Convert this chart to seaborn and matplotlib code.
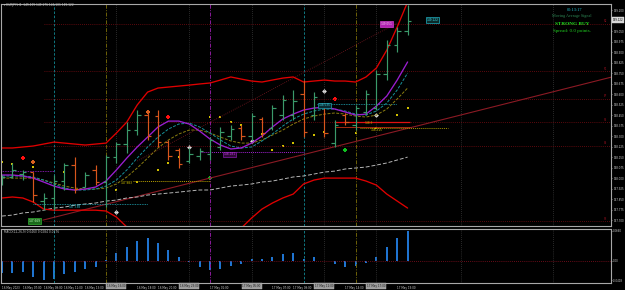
import matplotlib
matplotlib.use("Agg")
import matplotlib.pyplot as plt
import seaborn as sns

sns.set_style("dark")
plt.rcParams['font.family'] = ['DejaVu Sans']

# ---------------- data ----------------
bar_index = list(range(40))
open_ = [147.96, 148.01, 148.03, 148.04, 147.84, 147.86, 147.98, 148.09, 147.94, 148.06,
         147.97, 148.15, 148.24, 148.34, 148.45, 148.44, 148.26, 148.20, 148.12, 148.16,
         148.17, 148.22, 148.30, 148.36, 148.30, 148.42, 148.36, 148.45, 148.45, 148.60,
         148.45, 148.52, 148.25, 148.45, 148.38, 148.47, 148.50, 148.74, 148.95, 149.05]
high = [148.022, 148.108, 148.058, 148.043, 147.893, 148.022, 148.108, 148.150, 148.043, 148.093,
        148.165, 148.257, 148.400, 148.486, 148.472, 148.486, 148.272, 148.215, 148.215, 148.215,
        148.293, 148.365, 148.379, 148.379, 148.465, 148.436, 148.522, 148.593, 148.629, 148.700,
        148.614, 148.536, 148.415, 148.465, 148.522, 148.629, 148.772, 148.986, 149.079, 149.236]
low = [147.950, 148.000, 147.986, 147.829, 147.772, 147.772, 147.915, 147.893, 147.936, 147.950,
       147.793, 148.108, 148.179, 148.307, 148.272, 148.222, 148.129, 148.072, 148.108, 148.129,
       148.129, 148.200, 148.272, 148.272, 148.272, 148.293, 148.343, 148.415, 148.415, 148.293,
       148.415, 148.293, 148.222, 148.379, 148.343, 148.450, 148.486, 148.700, 148.900, 149.022]
close = [148.01, 148.06, 148.04, 147.88, 147.86, 147.98, 148.09, 147.92, 148.02, 147.97,
         148.15, 148.24, 148.34, 148.45, 148.30, 148.26, 148.16, 148.10, 148.17, 148.19,
         148.27, 148.33, 148.35, 148.30, 148.44, 148.32, 148.50, 148.56, 148.55, 148.33,
         148.58, 148.32, 148.38, 148.40, 148.50, 148.60, 148.74, 148.95, 149.05, 149.122]

ma_fast = [148.022, 148.022, 148.015, 148.000, 147.972, 147.943, 147.922, 147.915, 147.922, 147.936,
           147.979, 148.058, 148.143, 148.222, 148.293, 148.365, 148.407, 148.407, 148.386, 148.336,
           148.279, 148.236, 148.208, 148.215, 148.250, 148.300, 148.365, 148.422, 148.457, 148.486,
           148.500, 148.507, 148.493, 148.472, 148.450, 148.457, 148.514, 148.586, 148.700, 148.829]
ma_mid = [148.015, 148.015, 148.015, 148.008, 147.986, 147.958, 147.929, 147.915, 147.915, 147.922,
          147.943, 147.986, 148.058, 148.143, 148.222, 148.293, 148.350, 148.386, 148.393, 148.365,
          148.322, 148.272, 148.229, 148.215, 148.222, 148.265, 148.315, 148.372, 148.422, 148.457,
          148.479, 148.493, 148.493, 148.479, 148.457, 148.450, 148.479, 148.536, 148.629, 148.750]
ma_slow = [148.000, 148.000, 148.000, 148.000, 147.986, 147.965, 147.943, 147.929, 147.922, 147.922,
           147.929, 147.958, 148.008, 148.072, 148.143, 148.215, 148.272, 148.315, 148.343, 148.343,
           148.322, 148.293, 148.265, 148.250, 148.250, 148.272, 148.307, 148.343, 148.386, 148.422,
           148.443, 148.457, 148.465, 148.457, 148.443, 148.436, 148.450, 148.493, 148.565, 148.643]
band_upper = [148.215, 148.215, 148.222, 148.229, 148.243, 148.257, 148.250, 148.243, 148.236, 148.243,
              148.250, 148.322, 148.400, 148.522, 148.614, 148.643, 148.650, 148.657, 148.664, 148.672,
              148.679, 148.700, 148.722, 148.707, 148.693, 148.686, 148.700, 148.714, 148.722, 148.686,
              148.693, 148.700, 148.693, 148.693, 148.686, 148.722, 148.786, 148.914, 149.079, 149.257]
band_lower = [147.858, 147.865, 147.858, 147.829, 147.779, 147.771, 147.771, 147.771, 147.771, 147.771,
              147.765, 147.722, 147.651, 147.579, 147.522, 147.486, 147.465, 147.451, 147.444, 147.444,
              147.451, 147.472, 147.557, 147.643, 147.715, 147.779, 147.822, 147.858, 147.886, 147.958,
              147.986, 148.000, 148.000, 148.000, 148.000, 147.979, 147.950, 147.886, 147.836, 147.786]
ma_long = [147.729, 147.736, 147.751, 147.758, 147.771, 147.786, 147.793, 147.807, 147.815, 147.822,
           147.836, 147.843, 147.858, 147.865, 147.879, 147.886, 147.893, 147.900, 147.908, 147.915,
           147.915, 147.929, 147.943, 147.950, 147.958, 147.972, 147.979, 147.993, 148.008, 148.015,
           148.029, 148.043, 148.050, 148.065, 148.072, 148.079, 148.093, 148.108, 148.129, 148.150]
macd_hist = [-0.0264, -0.0264, -0.0242, -0.0352, -0.0425, -0.0389, -0.0286, -0.0249, -0.0176, -0.0139,
             0.0015, 0.0169, 0.0308, 0.0447, 0.0513, 0.0403, 0.0249, 0.0095, -0.0029, -0.0139,
             -0.0191, -0.0176, -0.0117, -0.0066, 0.0037, 0.0037, 0.0088, 0.0147, 0.0183, 0.0044,
             0.0081, 0.0010, -0.0066, -0.0139, -0.0110, -0.0051, 0.0095, 0.0315, 0.0506, 0.0660]

time_label_bars = [0, 2, 4, 6, 8, 13, 15, 20, 26, 28, 33, 38]
time_labels = ["16 May 2023", "16 May 07:00", "16 May 09:00", "16 May 11:00", "16 May 13:00",
               "16 May 18:00", "16 May 20:00",
               "17 May 01:00", "17 May 07:00", "17 May 09:00",
               "17 May 14:00", "17 May 19:00"]
vline_box_bars = [11, 18, 24, 31, 36]
vline_box_labels = ["16 May 16:00", "16 May 23:00", "17 May 05:00", "17 May 12:00", "17 May 17:00"]

price_ticks = [149.200, 149.050, 148.975, 148.900, 148.825, 148.750, 148.675, 148.600,
               148.525, 148.450, 148.375, 148.300, 148.225, 148.150, 148.075, 148.000, 147.925,
               147.850, 147.775, 147.700]
current_price = 149.122
pivot_levels = [149.100, 148.764, 148.565, 148.400, 148.229, 147.693]
pivot_names = ["R2", "R1", "PP", "S1", "S2", "S3"]

trend_bars = [3.94, 58.65]
trend_prices = [147.700, 148.722]
dotted_trend_bars = [13.0, 38.0]
dotted_trend_prices = [148.122, 149.107]

sell_bars = [2, 16, 32]
sell_prices = [148.143, 148.436, 148.565]
warn_bars = [3, 14]
warn_prices = [148.115, 148.472]
buy_bars = [20, 33]
buy_prices = [148.000, 148.200]
white_bars = [11, 18, 24, 31, 36]
white_prices = [147.758, 148.222, 148.265, 148.622, 148.450]
dot_bars = [0, 1, 3, 6, 11, 13, 15, 16, 17, 20, 21, 22, 23, 25, 26, 27, 28, 30, 31, 34, 36, 38, 39]
dot_prices = [148.115, 148.100, 148.079, 148.043, 147.915, 147.972, 148.058, 148.108, 148.150, 148.436,
              148.436, 148.400, 148.379, 148.315, 148.200, 148.229, 148.250, 148.307, 148.329, 148.322,
              148.357, 148.450, 148.500]

macd_ticks = [0.0660, 0.0, -0.0418]
macd_tick_labels = ["0.0660", "0.00", "-0.0418"]

# ---------------- layout ----------------
W, H = 625, 290
BAR0, STEP = 2.0, 10.4
L, R = 1, 611

def px_x(px):
    return px / W

def px_y(py):
    return 1 - py / H

def bx(px):
    return (px - BAR0) / STEP

fig = plt.figure(figsize=(6.25, 2.9), dpi=100)
fig.patch.set_facecolor('black')
ax = fig.add_axes([px_x(L), px_y(226), (R - L) / W, 222 / H])
axm = fig.add_axes([px_x(L), px_y(283), (R - L) / W, 54 / H])

GRIDC = '#505050'
for a in (ax, axm):
    a.set_facecolor('black')
    for s in a.spines.values():
        s.set_color('#a8a8a8')
        s.set_linewidth(0.8)
    a.set_xlim(bx(L), bx(R))
    a.yaxis.tick_right()
    a.tick_params(axis='y', colors='#cfcfcf', labelsize=1.9, length=1.0, width=0.4, pad=0.6)
    a.grid(False)
    for b in [11, 18, 24, 31, 36, 44.1, 53]:
        a.axvline(b, color=GRIDC, lw=0.5, ls=(0, (1, 2)))
    for b in [5, 29]:
        a.axvline(b, color='#138a95', lw=0.6, ls=(0, (3, 2)))
    for b in [10, 34]:
        a.axvline(b, color='#6e6208', lw=0.7, ls=(0, (4, 1.5, 1, 1.5)))
    a.axvline(20, color='#8a1a9a', lw=0.7, ls=(0, (4, 1.5, 1, 1.5)))

ax.set_ylim(147.658, 149.243)
ax.set_yticks(price_ticks)
ax.set_yticklabels([f"{p:.3f}" for p in price_ticks])
ax.set_xticks([])

# pivot lines
for lvl, nm in zip(pivot_levels, pivot_names):
    ax.hlines(lvl, 4, bx(R), colors='#7a0c12', lw=0.6, linestyles=(0, (1, 1.5)))
    ax.text(bx(605), lvl + 0.004, nm, color='#a01020', fontsize=1.9, ha='center', va='bottom')

# trend lines
sns.lineplot(x=trend_bars, y=trend_prices, ax=ax, color='#8b1a24', lw=0.8)
sns.lineplot(x=dotted_trend_bars, y=dotted_trend_prices, ax=ax, color='#7a1820', lw=0.6,
             linestyle=(0, (1, 1.5)))

# long MA and bands
sns.lineplot(x=bar_index, y=ma_long, ax=ax, color='#b5b5b5', lw=0.7, linestyle=(0, (4, 2)))
sns.lineplot(x=bar_index, y=band_upper, ax=ax, color='#e00000', lw=0.95)
sns.lineplot(x=bar_index, y=band_lower, ax=ax, color='#e00000', lw=0.95)

# horizontal helper segments
ax.hlines(148.050, bx(L), 5, colors='#a020d0', lw=0.6, linestyles=(0, (1, 1)))
ax.hlines(148.186, 19, 29, colors='#a020d0', lw=0.7, linestyles=(0, (1, 1)))
ax.hlines(147.979, 12.6, 20, colors='#b8a000', lw=0.7, linestyles=(0, (1, 1)))
ax.hlines(147.815, 3, 14, colors='#20a8b8', lw=0.6, linestyles=(0, (1, 1)))
ax.hlines(148.529, 30.3, 38, colors='#20a8b8', lw=0.6, linestyles=(0, (1, 1)))
ax.hlines(148.357, 34.4, 42.9, colors='#a09000', lw=0.7, linestyles=(0, (1, 1)))
ax.hlines(148.400, 32, 39.2, colors='#e01010', lw=0.9)
ax.hlines(148.365, 32, 39.2, colors='#c03010', lw=0.6)

# moving averages
sns.lineplot(x=bar_index, y=ma_slow, ax=ax, color='#8a7c10', lw=0.7, linestyle=(0, (3, 1.5)))
sns.lineplot(x=bar_index, y=ma_mid, ax=ax, color='#17919a', lw=0.7, linestyle=(0, (3, 1.5)))
sns.lineplot(x=bar_index, y=ma_fast, ax=ax, color='#9a1ed0', lw=0.95)

# OHLC bars
cols = ['#3a9a6a' if c >= o else '#d8561c' for o, c in zip(open_, close)]
ax.vlines(bar_index, low, high, colors=cols, lw=0.85)
ax.hlines(open_, [i - 0.32 for i in bar_index], bar_index, colors=cols, lw=0.85)
ax.hlines(close, bar_index, [i + 0.32 for i in bar_index], colors=cols, lw=0.85)

# markers
sns.scatterplot(x=dot_bars, y=dot_prices, ax=ax, color='#d0c000', s=2, marker='s', linewidth=0)
sns.scatterplot(x=sell_bars, y=sell_prices, ax=ax, color='#ff1010', s=12, marker='P', linewidth=0)
sns.scatterplot(x=warn_bars, y=warn_prices, ax=ax, color='#d86020', s=10, marker='P', linewidth=0)
sns.scatterplot(x=buy_bars, y=buy_prices, ax=ax, color='#10c020', s=12, marker='P', linewidth=0)
sns.scatterplot(x=white_bars, y=white_prices, ax=ax, color='#d8d8d8', s=6, marker='D', linewidth=0)
ax.set_xlabel(''); ax.set_ylabel('')

# small price labels on chart
def box_label(a, xb, yp, txt, fc, tc, ec):
    a.text(xb, yp, txt, fontsize=2.1, color=tc, ha='center', va='center',
           bbox=dict(boxstyle='square,pad=0.25', fc=fc, ec=ec, lw=0.5))

box_label(ax, 37.0, 149.100, "149.051", '#b020b0', '#f0d0f0', '#d040d0')
box_label(ax, 41.4, 149.129, "149.122", '#0a2a2a', '#40e0f0', '#20b0c0')
box_label(ax, 3.1, 147.693, "147.669", '#1c6a1c', '#c0ffc0', '#30b030')
box_label(ax, 31.0, 148.520, "148.535", '#0a2a30', '#40d0e0', '#20a0b0')
ax.text(21.9, 148.170, "148.181", fontsize=2.1, color='#c040e0', ha='center', va='center',
        bbox=dict(boxstyle='square,pad=0.2', fc='#300838', ec='#a020d0', lw=0.4))
ax.text(12.0, 147.965, "147.983", fontsize=2.1, color='#e0d000', ha='center', va='center')
ax.text(7.0, 147.793, "147.738", fontsize=2.1, color='#30d0e0', ha='center', va='center')
ax.text(35.3, 148.393, "148.3", fontsize=2.1, color='#c0b000', ha='center', va='center')
ax.text(36.0, 148.343, "148.315", fontsize=2.1, color='#e0d000', ha='center', va='center')

# MACD panel
axm.bar(bar_index, macd_hist, width=0.18, color='#1f74d0', linewidth=0)
axm.set_xlim(bx(L), bx(R))
axm.set_ylim(-0.0484, 0.0704)
axm.axhline(0, color='#8b1020', lw=0.6, ls=(0, (1, 1.5)))
axm.set_yticks(macd_ticks)
axm.set_yticklabels(macd_tick_labels)
axm.set_xticks(time_label_bars)
axm.set_xticklabels(time_labels)
axm.tick_params(axis='x', colors='#cfcfcf', labelsize=2.0, length=1.2, width=0.4, pad=1)
for t in axm.get_xticklabels():
    t.set_ha('left')
axm.set_xlabel(''); axm.set_ylabel('')

# gray boxes on time axis (vertical line labels)
for b, lab in zip(vline_box_bars, vline_box_labels):
    fig.text(px_x(BAR0 + STEP * b), px_y(286), lab, fontsize=2.0, color='#202020',
             ha='center', va='center',
             bbox=dict(boxstyle='square,pad=0.3', fc='#9c9c9c', ec='#bcbcbc', lw=0.3))

# headers
fig.text(px_x(4), px_y(5), "\u25be EURJPY,H1  149.109 149.176 149.101 149.122",
         fontsize=2.1, color='#c8c8c8', ha='left', va='center')
fig.text(px_x(4), px_y(232), "MACD(12,26,9) 0.0460 0.0284 0.0176",
         fontsize=2.1, color='#c8c8c8', ha='left', va='center')

# current price tag on axis
fig.text(px_x(618), px_y(20), f"{current_price:.3f}", fontsize=1.9, color='#000000',
         ha='center', va='center',
         bbox=dict(boxstyle='square,pad=0.25', fc='#d8d8d8', ec='#d8d8d8', lw=0.3))

# signal panel texts
serif = ['Liberation Serif', 'DejaVu Serif']
fig.text(px_x(575), px_y(10), "00:13:17", fontsize=3.2, color='#20c0d0', ha='center', va='center',
         family=serif)
fig.text(px_x(572), px_y(16.5), "Moving Average Signal", fontsize=3.0, color='#2e8b57',
         ha='center', va='center', family=serif)
fig.text(px_x(572), px_y(24), "STRONG BUY", fontsize=3.8, color='#20e020', ha='center',
         va='center', family=serif, weight='bold')
fig.text(px_x(572), px_y(31), "Spread: 0.0 points.", fontsize=3.6, color='#20d020',
         ha='center', va='center', family=serif)

fig.savefig("out.png", dpi=100, facecolor='black')
